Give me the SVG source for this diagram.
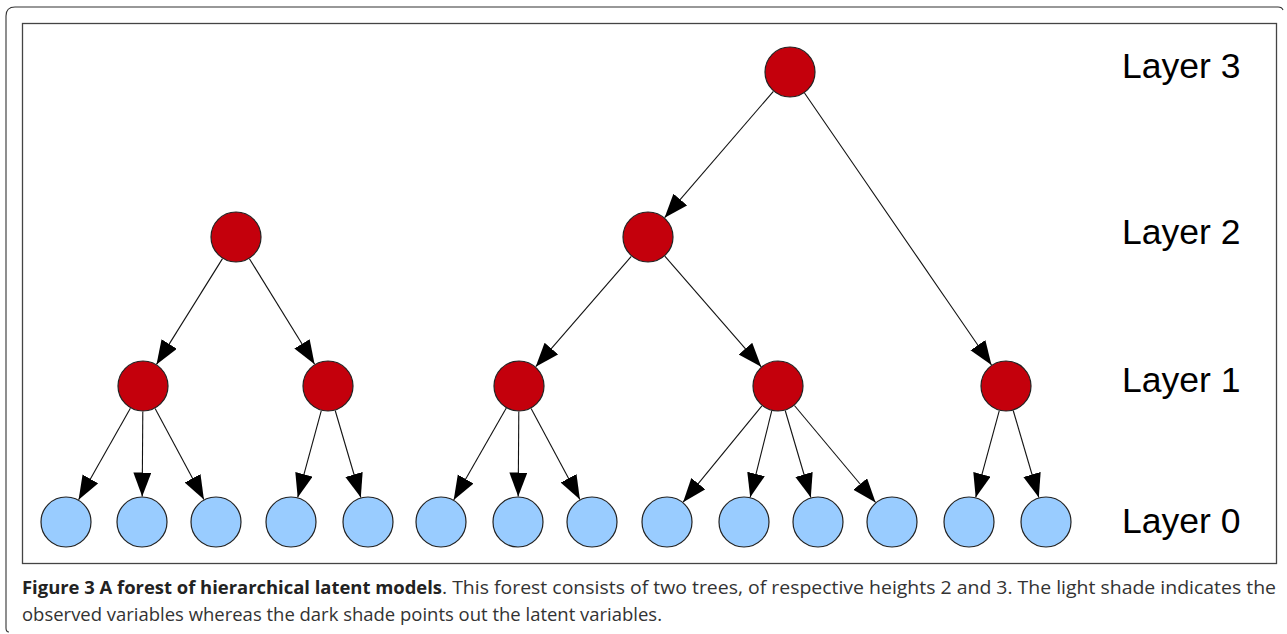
<svg xmlns="http://www.w3.org/2000/svg" width="1287" height="634" viewBox="0 0 1287 634">
  <style>
    .lat { fill: #C4000C; stroke: #222; stroke-width: 1.2; }
    .obs { fill: #99CCFF; stroke: #222; stroke-width: 1.2; }
    .edge { stroke: #111; stroke-width: 1.1; fill: none; marker-end: url(#arr); }
    .layer { font-family: "Liberation Sans", Arial, sans-serif; font-size: 35.5px; fill: #000; }
    .cap { font-family: "Open Sans", "Liberation Sans", sans-serif; font-size: 18px; fill: #333; }
    .capb { font-weight: bold; fill: #222; }
  </style>
  <defs>
    <marker id="arr" markerUnits="userSpaceOnUse" markerWidth="26" markerHeight="20" refX="24" refY="9" orient="auto">
      <path d="M0,0 L24,9 L0,18 Z" fill="#000"/>
    </marker>
  </defs>
  <rect width="1287" height="634" fill="#fff"/>
  <g id="frame">
    <path d="M 9,632 Q 6,632 6,628 L 6,16 Q 6,7 15,7 L 1278,7 Q 1282,7 1283,10" fill="none" stroke="#333" stroke-width="1.1"/>
    <rect x="22.5" y="23.5" width="1254" height="540" fill="none" stroke="#444" stroke-width="1.3"/>
  </g>
  <g id="connectors">
    <line class="edge" x1="773.4" y1="91.3" x2="664.6" y2="217.7"/>
    <line class="edge" x1="804.5" y1="93.0" x2="991.5" y2="365.0"/>
    <line class="edge" x1="222.5" y1="258.6" x2="156.5" y2="364.4"/>
    <line class="edge" x1="249.4" y1="258.7" x2="314.6" y2="364.3"/>
    <line class="edge" x1="631.3" y1="256.3" x2="535.7" y2="366.7"/>
    <line class="edge" x1="664.8" y1="256.2" x2="761.2" y2="366.8"/>
    <line class="edge" x1="130.4" y1="408.2" x2="78.6" y2="499.8"/>
    <line class="edge" x1="142.8" y1="411.5" x2="142.2" y2="496.5"/>
    <line class="edge" x1="155.1" y1="408.5" x2="203.9" y2="499.5"/>
    <line class="edge" x1="321.3" y1="410.6" x2="297.7" y2="497.4"/>
    <line class="edge" x1="335.2" y1="410.5" x2="360.8" y2="497.5"/>
    <line class="edge" x1="506.3" y1="408.1" x2="453.7" y2="499.9"/>
    <line class="edge" x1="518.8" y1="411.5" x2="518.2" y2="496.5"/>
    <line class="edge" x1="531.1" y1="408.5" x2="579.9" y2="499.5"/>
    <line class="edge" x1="761.9" y1="405.8" x2="683.1" y2="502.2"/>
    <line class="edge" x1="771.8" y1="410.7" x2="750.2" y2="497.3"/>
    <line class="edge" x1="785.2" y1="410.5" x2="810.8" y2="497.5"/>
    <line class="edge" x1="794.4" y1="405.5" x2="875.6" y2="502.5"/>
    <line class="edge" x1="999.3" y1="410.6" x2="975.7" y2="497.4"/>
    <line class="edge" x1="1013.2" y1="410.5" x2="1038.8" y2="497.5"/>
  </g>
  <g id="n-root"><circle class="lat" cx="790" cy="72" r="25"/></g>
  <g id="n-a"><circle class="lat" cx="236" cy="237" r="25"/></g>
  <g id="n-b"><circle class="lat" cx="648" cy="237" r="25"/></g>
  <g id="n-a1"><circle class="lat" cx="143" cy="386" r="25"/></g>
  <g id="n-a2"><circle class="lat" cx="328" cy="386" r="25"/></g>
  <g id="n-b1"><circle class="lat" cx="519" cy="386" r="25"/></g>
  <g id="n-b2"><circle class="lat" cx="778" cy="386" r="25"/></g>
  <g id="n-r3"><circle class="lat" cx="1006" cy="386" r="25"/></g>
  <g id="o1"><circle class="obs" cx="66" cy="522" r="25"/></g>
  <g id="o2"><circle class="obs" cx="142" cy="522" r="25"/></g>
  <g id="o3"><circle class="obs" cx="216" cy="522" r="25"/></g>
  <g id="o4"><circle class="obs" cx="291" cy="522" r="25"/></g>
  <g id="o5"><circle class="obs" cx="368" cy="522" r="25"/></g>
  <g id="o6"><circle class="obs" cx="441" cy="522" r="25"/></g>
  <g id="o7"><circle class="obs" cx="518" cy="522" r="25"/></g>
  <g id="o8"><circle class="obs" cx="592" cy="522" r="25"/></g>
  <g id="o9"><circle class="obs" cx="667" cy="522" r="25"/></g>
  <g id="o10"><circle class="obs" cx="744" cy="522" r="25"/></g>
  <g id="o11"><circle class="obs" cx="818" cy="522" r="25"/></g>
  <g id="o12"><circle class="obs" cx="892" cy="522" r="25"/></g>
  <g id="o13"><circle class="obs" cx="969" cy="522" r="25"/></g>
  <g id="o14"><circle class="obs" cx="1046" cy="522" r="25"/></g>
  <g id="labels">
    <text class="layer" x="1122" y="78">Layer 3</text>
    <text class="layer" x="1122" y="244">Layer 2</text>
    <text class="layer" x="1122" y="392">Layer 1</text>
    <text class="layer" x="1122" y="533">Layer 0</text>
  </g>
  <g id="caption">
    <text class="cap capb" x="22" y="594" textLength="420" lengthAdjust="spacingAndGlyphs">Figure 3 A forest of hierarchical latent models</text>
    <text class="cap" x="442" y="594" textLength="834" lengthAdjust="spacingAndGlyphs">. This forest consists of two trees, of respective heights 2 and 3. The light shade indicates the</text>
    <text class="cap" x="22" y="621" textLength="640" lengthAdjust="spacingAndGlyphs">observed variables whereas the dark shade points out the latent variables.</text>
  </g>
</svg>
